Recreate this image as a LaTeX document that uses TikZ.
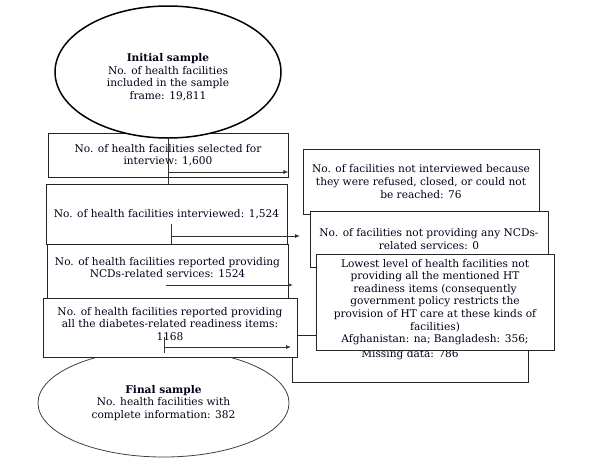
\documentclass[tikz,border=0pt]{standalone}
\usepackage{fontspec}
\setmainfont{DejaVu Serif}
\usetikzlibrary{shapes.geometric,arrows.meta}
\begin{document}
\begin{tikzpicture}[x=1pt,y=-1pt,
  txt/.style={align=center,font=\fontsize{10.6}{12.6}\selectfont,text=black!90!blue},
  box/.style={txt,draw=black!85,line width=0.9pt,fill=white,inner sep=2pt},
  oval/.style={txt,ellipse,fill=white,inner sep=0pt},
  conn/.style={draw=black!80,line width=0.8pt},
  arr/.style={conn,-{Latex[length=5pt,width=4pt]}}]
\useasboundingbox (0,0) rectangle (593,467);
% right column
\node[box,minimum width=236pt,minimum height=47pt] (m) at (410,358.5) {};
\node[txt] (mt) at (410,355) {Missing data: 786};
\node[box,minimum width=236pt,minimum height=65pt] (r1) at (421,181.5)
  {No. of facilities not interviewed because\\ they were refused, closed, or could not\\ be reached: 76};
\node[box,minimum width=238pt,minimum height=56pt] (r2) at (429,239)
  {No. of facilities not providing any NCDs-\\ related services: 0};
\node[box,minimum width=238pt,minimum height=96pt] (r3) at (435,302)
  {Lowest level of health facilities not\\ providing all the mentioned HT\\ readiness items (consequently\\ government policy restricts the\\ provision of HT care at these kinds of\\ facilities)\\ Afghanistan: na; Bangladesh: 356;};
% left column
\node[box,minimum width=240pt,minimum height=44pt] (b1) at (168,155)
  {No. of health facilities selected for\\ interview: 1,600};
\node[oval,draw=black,line width=1.5pt,minimum width=226pt,minimum height=132pt] (e1) at (168,72) {};
\node[txt] (e1t) at (168,77)
  {\textbf{Initial sample}\\ No. of health facilities\\ included in the sample\\ frame: 19,811};
\node[box,minimum width=241pt,minimum height=60pt] (b2) at (166.5,214)
  {No. of health facilities interviewed: 1,524};
\node[box,minimum width=241pt,minimum height=54pt] (b3) at (167.5,271) {};
\node[txt] (b3t) at (167.5,267.5)
  {No. of health facilities reported providing\\ NCDs-related services: 1524};
\node[oval,draw=black!75,line width=0.8pt,minimum width=251pt,minimum height=108pt] (e2) at (163.5,403)
  {\textbf{Final sample}\\ No. health facilities with\\ complete information: 382};
\node[box,minimum width=254pt,minimum height=59pt] (b4) at (170,327.5) {};
\node[txt] (b4t) at (170,324)
  {No. of health facilities reported providing\\ all the diabetes-related readiness items:\\ 1168};
% connectors
\coordinate (a1s) at (168,172);
\draw[conn] (e1.south) -- (e1.south |- b2.north);
\draw[arr] (a1s) -- (a1s -| b1.east);
\coordinate (a2t) at (171,224);
\coordinate (a2s) at (171,236);
\coordinate (a2e) at (300,236);
\draw[conn] (a2t) -- (a2t |- b2.south);
\draw[arr] (a2s) -- (a2e);
\coordinate (a3s) at (166,285);
\coordinate (a3e) at (293,285);
\draw[arr] (a3s) -- (a3e);
\coordinate (a4t) at (164,337);
\coordinate (a4b) at (164,353);
\coordinate (a4s) at (164,347);
\coordinate (a4e) at (291,347);
\draw[conn] (a4t) -- (a4b);
\draw[arr] (a4s) -- (a4e);
\end{tikzpicture}
\end{document}
